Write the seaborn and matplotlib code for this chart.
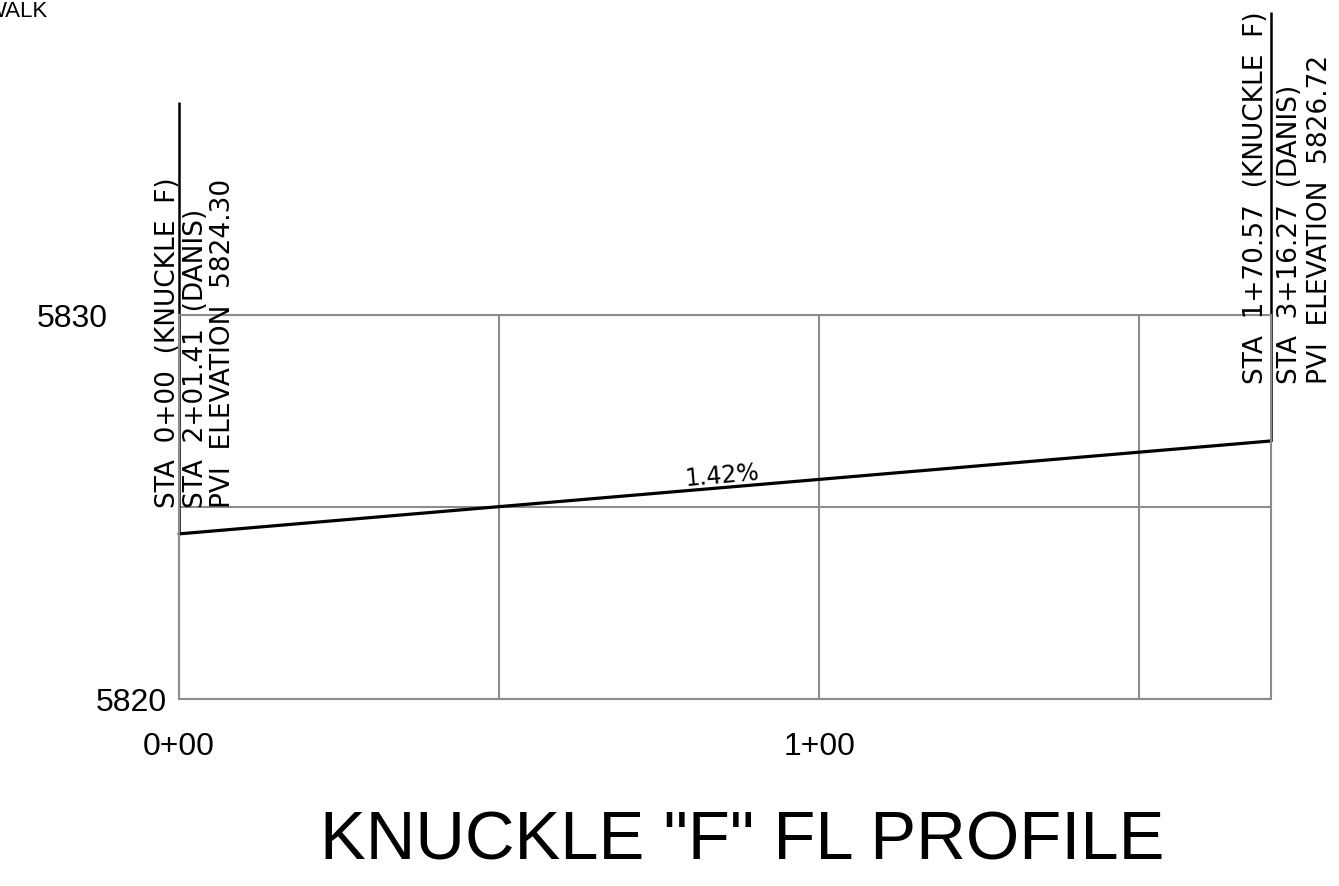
import matplotlib
matplotlib.use("Agg")
import matplotlib.pyplot as plt
import pandas as pd
import numpy as np
import seaborn as sns

# profile data (station in ft, elevation in ft)
stations = [0.0, 170.57]
elevations = [5824.30, 5826.72]
grade_label = "1.42%"

grid_stations = [0, 50, 100, 150]
station_labels = ["0+00", "", "1+00", ""]
elev_ticks = [5820, 5825, 5830]
elev_labels = ["5820", "", "5830"]

pvi_left = ["STA  0+00  (KNUCKLE  F)", "STA  2+01.41  (DANIS)", "PVI  ELEVATION  5824.30"]
pvi_right = ["STA  1+70.57  (KNUCKLE  F)", "STA  3+16.27  (DANIS)", "PVI  ELEVATION  5826.72"]
marker_rise = [11.25, 11.17]

title = 'KNUCKLE "F" FL PROFILE'

sns.set_style("white")
plt.rcParams["font.family"] = ["Liberation Sans", "DejaVu Sans"]
plt.rcParams["text.color"] = "black"
plt.rcParams["xtick.color"] = "black"
plt.rcParams["ytick.color"] = "black"

W, H = 1339, 887
fig = plt.figure(figsize=(W / 100, H / 100), dpi=100)
ax = fig.add_axes([179 / W, (H - 700) / H, 1092 / W, 384 / H])

df = pd.DataFrame({"station": stations, "elevation": elevations})
grid_col = "#8c8c8c"

# grid
ax.set_xlim(stations[0], stations[-1])
ax.set_ylim(elev_ticks[0], elev_ticks[-1])
ax.set_xticks(grid_stations)
ax.set_xticklabels(station_labels)
ax.set_yticks(elev_ticks)
ax.set_yticklabels(elev_labels)
ax.grid(True, color=grid_col, lw=1.5)
for s in ax.spines.values():
    s.set_color(grid_col)
    s.set_linewidth(1.5)
ax.tick_params(length=0, labelsize=23, labelcolor="black")
ax.tick_params(axis="x", pad=23)
yt = ax.yaxis.get_major_ticks()
yt[0].set_pad(9)
yt[2].set_pad(51)

# profile line
sns.lineplot(data=df, x="station", y="elevation", color="black", lw=2.3, ax=ax, clip_on=False)
ax.set_xlabel("")
ax.set_ylabel("")

# PVI marker lines
for st, el, rise in zip(stations, elevations, marker_rise):
    ax.plot([st, st], [el, el + rise], color="black", lw=1.8, clip_on=False, solid_capstyle="butt")

# PVI text
txt_kw = dict(textcoords="offset pixels", rotation=90, rotation_mode="anchor",
              ha="left", va="baseline", fontsize=19, family="DejaVu Sans",
              color="black", annotation_clip=False)
for lbl, dx in zip(pvi_left, [-4, 24, 51]):
    ax.annotate(lbl, xy=(stations[0], elevations[0]), xytext=(dx, 27), **txt_kw)
for lbl, dx in zip(pvi_right, [-8, 26, 56]):
    ax.annotate(lbl, xy=(stations[-1], elevations[-1]), xytext=(dx, 58), **txt_kw)

# grade label
p = ax.transData.transform(np.column_stack([stations, elevations]))
ang = np.degrees(np.arctan2(p[1, 1] - p[0, 1], p[1, 0] - p[0, 0]))
mid = (np.mean(stations), np.mean(elevations))
ax.annotate(grade_label, xy=mid, xytext=(-2, 6), textcoords="offset pixels",
            rotation=ang, rotation_mode="anchor", ha="center", va="baseline",
            fontsize=17, family="DejaVu Sans", color="black")

fig.text(742 / W, 27 / H, title, ha="center", va="baseline", fontsize=49.5,
         family=["Liberation Sans", "DejaVu Sans"], color="black")
fig.text(48 / W, 1 - 17 / H, "WALK", ha="right", va="baseline", fontsize=16,
         family=["Liberation Sans", "DejaVu Sans"], color="black")

fig.savefig("out.png", dpi=100)
